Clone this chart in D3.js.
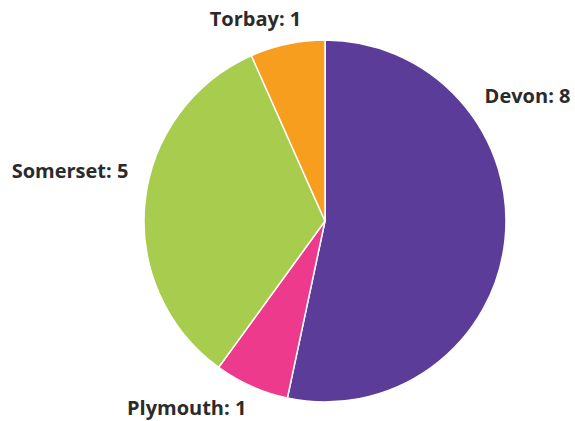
<!DOCTYPE html>
<html><head><meta charset="utf-8">
<script src="https://cdn.jsdelivr.net/npm/d3@7"></script>
<style>html,body{margin:0;padding:0;background:#fff;}</style>
</head><body>
<svg id="c" width="575" height="421"></svg>
<script>
const categories = ["Devon", "Plymouth", "Somerset", "Torbay"];
const values = [8, 1, 5, 1];
const colors = ["#5b3d99", "#ee3a8c", "#a8cd4e", "#f79e1e"];

const W = 575, H = 421, cx = 325, cy = 221, R = 181;
const svg = d3.select("#c");
const g = svg.append("g").attr("transform", `translate(${cx},${cy})`);
const data = categories.map((c, i) => ({ name: c, value: values[i], color: colors[i] }));
const pie = d3.pie().value(d => d.value).sort(null);
const arcs = pie(data);
const arc = d3.arc().innerRadius(0).outerRadius(R);
g.selectAll("path").data(arcs).join("path")
  .attr("d", arc).attr("fill", d => d.data.color)
  .attr("stroke", "#fff").attr("stroke-width", 1.5);

const labelR = 203;
// label placement: fraction along each slice's angular span (layout, not data)
const labelFrac = { Devon: 0.27, Plymouth: 0.45, Somerset: 0.57, Torbay: 0.72 };
const angleOf = d => d.startAngle + labelFrac[d.data.name] * (d.endAngle - d.startAngle);
g.selectAll("text").data(arcs).join("text")
  .attr("x", d => Math.sin(angleOf(d)) * labelR)
  .attr("y", d => -Math.cos(angleOf(d)) * labelR)
  .attr("text-anchor", d => Math.sin(angleOf(d)) >= 0 ? "start" : "end")
  .attr("dy", "0.35em")
  .attr("font-family", "'Open Sans', sans-serif")
  .attr("font-weight", "bold")
  .attr("font-size", 20)
  .attr("fill", "#2b2b2b")
  .text(d => `${d.data.name}: ${d.data.value}`);
</script>
</body></html>
